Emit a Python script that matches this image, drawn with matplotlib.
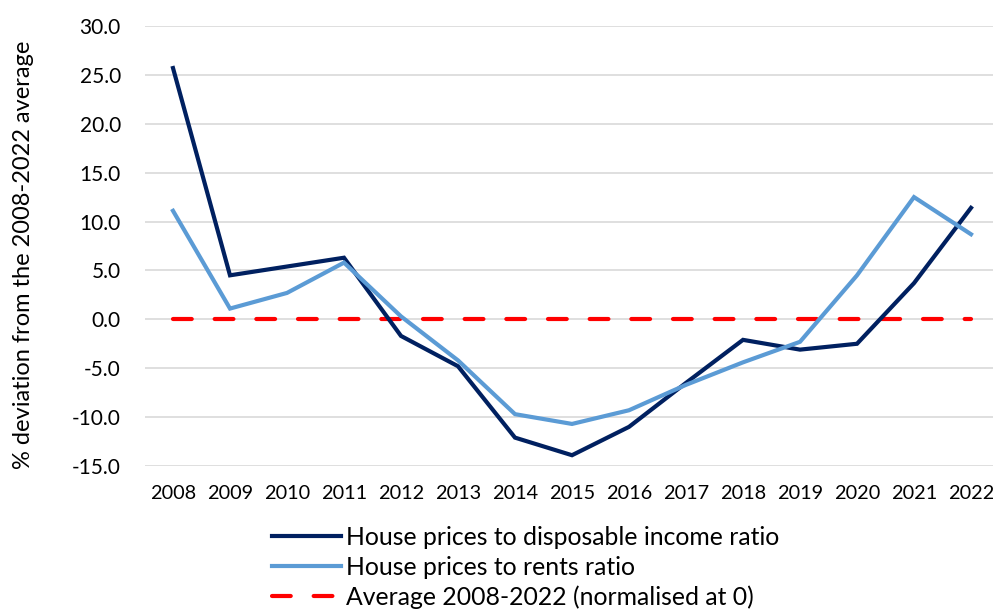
import matplotlib.pyplot as plt
from matplotlib.lines import Line2D

plt.rcParams['font.family'] = ['Lato', 'DejaVu Sans']

years = ['2008', '2009', '2010', '2011', '2012', '2013', '2014', '2015',
         '2016', '2017', '2018', '2019', '2020', '2021', '2022']
income_ratio = [25.7, 4.5, 5.4, 6.3, -1.7, -4.8, -12.1, -13.9,
                -11.0, -6.5, -2.1, -3.1, -2.5, 3.7, 11.4]
rents_ratio = [11.1, 1.1, 2.7, 5.8, 0.3, -4.2, -9.7, -10.7,
               -9.3, -6.7, -4.4, -2.3, 4.5, 12.5, 8.7]
average = [0.0] * len(years)

labels = ['House prices to disposable income ratio',
          'House prices to rents ratio',
          'Average 2008-2022 (normalised at 0)']

fig = plt.figure(figsize=(9.93, 6.12), dpi=100)
ax = fig.add_axes([144.5 / 993, 0.2386, 855 / 993, 0.7189])

x = range(len(years))
ax.plot(x, income_ratio, color='#002060', lw=3, solid_joinstyle='miter', zorder=3)
ax.plot(x, rents_ratio, color='#5B9BD5', lw=3, solid_joinstyle='miter', zorder=3)
ax.plot(x, average, color='#FF0000', lw=3, dashes=(4.5, 5.5),
        dash_capstyle='round', zorder=2)

ax.set_xlim(-0.5, len(years) - 0.5)
ax.set_ylim(-15, 30)
ax.set_yticks(range(-15, 31, 5))
ax.set_yticklabels([f'{v:.1f}' for v in range(-15, 31, 5)])
ax.set_xticks(list(x))
ax.set_xticklabels(years)
ax.tick_params(length=0, labelsize=15)
ax.tick_params(axis='x', pad=14, labelsize=14.3)
ax.tick_params(axis='y', pad=17)
ax.grid(axis='y', color='#d9d9d9', lw=1.2)
ax.set_axisbelow(True)
for s in ax.spines.values():
    s.set_visible(False)

ax.set_ylabel('% deviation from the 2008-2022 average', fontsize=17)
ax.yaxis.set_label_coords(-0.129, 0.48)

handles = [Line2D([], [], color='#002060', lw=3),
           Line2D([], [], color='#5B9BD5', lw=3),
           Line2D([], [], color='#FF0000', lw=3, dashes=(4.5, 5.5), dash_capstyle='round')]
fig.legend(handles, labels, loc='upper left', bbox_to_anchor=(272 / 993, 1 - 526 / 612),
           frameon=False, fontsize=17.8, handlelength=2.8, handletextpad=0.2,
           labelspacing=0.27, borderaxespad=0, borderpad=0)

fig.savefig('out.png', dpi=100)
